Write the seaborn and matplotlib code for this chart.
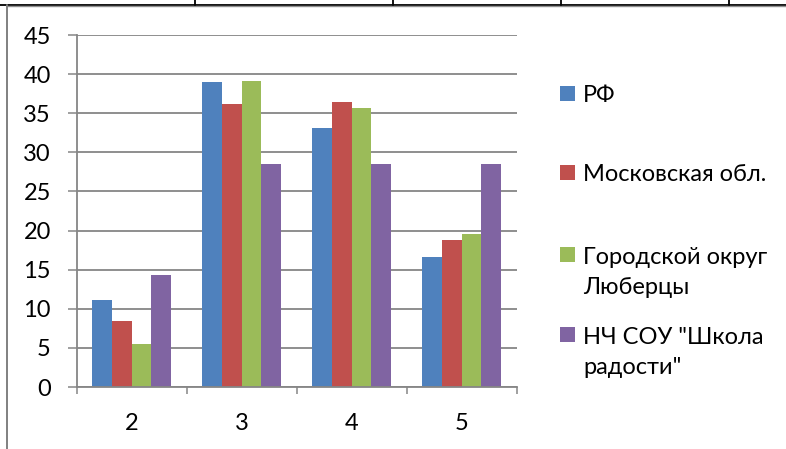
import numpy as np
import pandas as pd
import matplotlib
matplotlib.use("Agg")
import matplotlib.pyplot as plt
from matplotlib.lines import Line2D
from matplotlib.patches import Rectangle
import seaborn as sns

# data
grades = ["2", "3", "4", "5"]
rf = [11.1, 39.0, 33.1, 16.6]
moscow_obl = [8.4, 36.2, 36.4, 18.8]
lyubertsy = [5.5, 39.1, 35.7, 19.5]
school = [14.29, 28.57, 28.57, 28.57]
series_names = ["РФ", "Московская обл.", "Городской округ\nЛюберцы", "НЧ СОУ \"Школа\nрадости\""]
colors = ["#4F81BD", "#C0504D", "#9BBB59", "#8064A2"]

rows = []
for name, vals in zip(series_names, [rf, moscow_obl, lyubertsy, school]):
    for g, v in zip(grades, vals):
        rows.append({"grade": g, "value": v, "group": name})
df = pd.DataFrame(rows)

sns.set_style("white")
plt.rcParams["font.family"] = ["Lato", "Open Sans", "DejaVu Sans"]

W, H = 786, 449
fig = plt.figure(figsize=(W / 100, H / 100), dpi=100)
ax = fig.add_axes([76.5 / W, 1 - 387 / H, 440 / W, 352 / H])

sns.barplot(data=df, x="grade", y="value", hue="group", hue_order=series_names,
            order=grades, palette=colors, width=0.727, gap=0, saturation=1,
            legend=False, edgecolor="none", linewidth=0, ax=ax)

grid_c = "#868686"
fs = 17
ax.set_xlim(-0.5, 3.5)
ax.set_ylim(0, 45)
ax.set_yticks(np.arange(0, 46, 5))
ax.yaxis.grid(True, color=grid_c, linewidth=1.3)
ax.set_axisbelow(True)
ax.tick_params(axis="y", direction="out", length=6.5, width=1.1, color=grid_c,
               pad=12, labelsize=fs, labelcolor="black", left=True)

# category boundaries as ticks, labels in the middle
ax.set_xticks(np.arange(-0.5, 4, 1))
ax.set_xticklabels([])
ax.set_xticks(np.arange(len(grades)), minor=True)
ax.set_xticklabels(grades, minor=True)
ax.tick_params(axis="x", which="major", direction="out", length=5, width=1.1,
               color=grid_c, bottom=True)
ax.tick_params(axis="x", which="minor", length=0, pad=19, labelsize=fs,
               labelcolor="black")
ax.set_xlabel("")
ax.set_ylabel("")
for s in ["top", "right"]:
    ax.spines[s].set_visible(False)
for s in ["left", "bottom"]:
    ax.spines[s].set_color(grid_c)
    ax.spines[s].set_linewidth(1.3)

# legend, laid out like the Excel one
cap_tops = [86, 165, 247, 327]
for name, col, top in zip(series_names, colors, cap_tops):
    fig.add_artist(Rectangle((560 / W, 1 - (top + 15) / H), 15 / W, 15 / H,
                             transform=fig.transFigure, color=col, lw=0))
    for k, line in enumerate(name.split("\n")):
        fig.text(583 / W, 1 - (top + 16.5 + 30 * k) / H, line, fontsize=fs,
                 va="baseline", ha="left", color="black")

# page/table borders around the chart
fig.add_artist(Line2D([0, 1], [1 - 4.5 / H] * 2, color="black", lw=1.3,
                      transform=fig.transFigure))
fig.add_artist(Line2D([7 / W, 1], [1 - 6.3 / H] * 2, color="#909090", lw=1.0,
                      transform=fig.transFigure))
fig.add_artist(Line2D([7 / W] * 2, [0, 1 - 5 / H], color="#808080", lw=1.4,
                      transform=fig.transFigure))
for xp in [195, 393, 561, 729]:
    fig.add_artist(Line2D([xp / W] * 2, [1 - 4.5 / H, 1], color="black", lw=1.3,
                          transform=fig.transFigure))

fig.savefig("out.png", dpi=100)
